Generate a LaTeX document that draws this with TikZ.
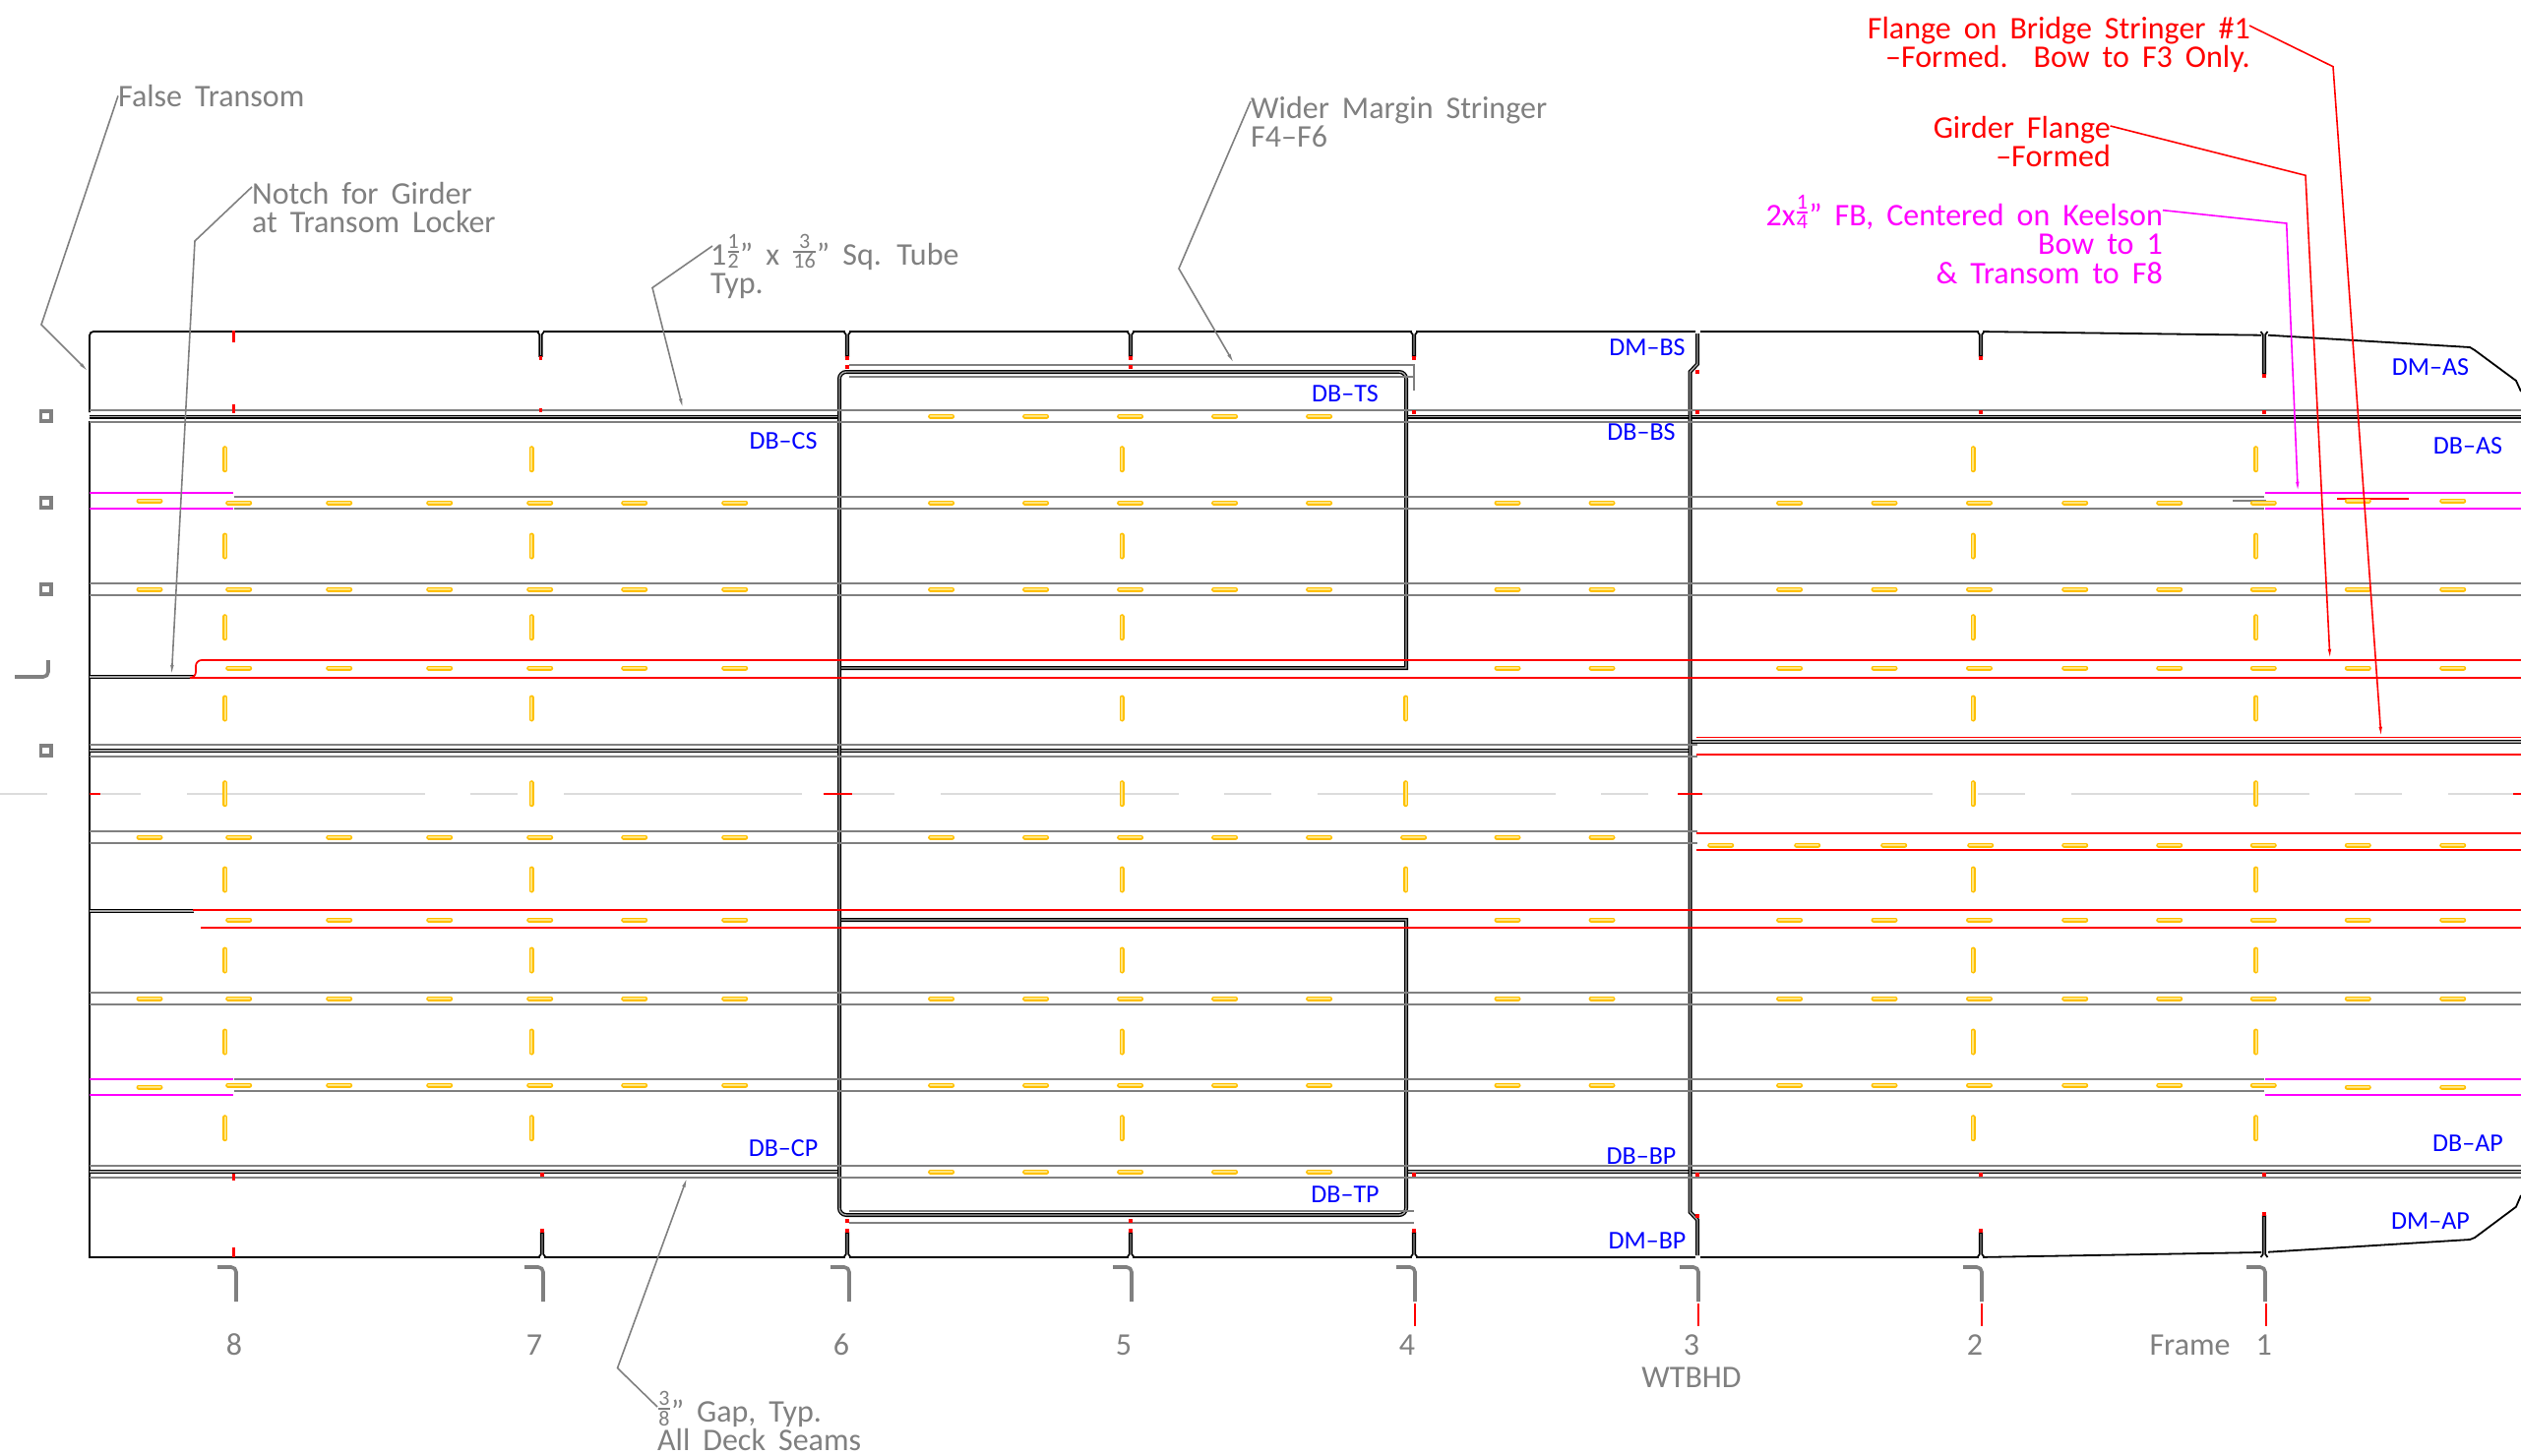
\documentclass[tikz,border=0pt]{standalone}
\usepackage{fontspec}
\setmainfont[WordSpace=1.8]{Carlito}
\usetikzlibrary{arrows.meta}
\definecolor{slotline}{HTML}{FFC000}
\definecolor{slotfill}{HTML}{FFE680}
\definecolor{linegray}{HTML}{808080}
\definecolor{centergray}{HTML}{DCDCDC}
\definecolor{barpink}{HTML}{FF00FF}
\newcommand{\frc}[2]{\raisebox{.45ex}{${\mbox{\fontsize{22}{22}\selectfont #1}\above 1.3pt\mbox{\fontsize{22}{22}\selectfont #2}}$}}
\newcommand{\hslots}[2]{\foreach \x in #2 {\draw[slot] (\x-11,#1) -- (\x+11,#1);}}
\newcommand{\vslots}[2]{\foreach \y in #2 {\draw[slot] (#1,\y-11) -- (#1,\y+11);}}
\def\farslots{242.7,344.7,446.7,548.7,644.7,746.7}
\begin{document}
\begin{tikzpicture}[x=1pt,y=-1pt]
	\tikzstyle{outl}=[draw=black,line width=1.8pt]
	\tikzstyle{dbl}=[draw=black,line width=1.3pt,double=linegray!70,double distance=1.4pt]
	\tikzstyle{seam}=[draw=linegray,line width=1.7pt]
	\tikzstyle{flange}=[draw=red,line width=1.7pt]
	\tikzstyle{bar}=[draw=barpink,line width=1.7pt]
	\tikzstyle{tick}=[draw=red,line width=3.2pt]
	\tikzstyle{slot}=[draw=slotline,line width=1.5pt,double=slotfill,double distance=2pt,line cap=round]
	\tikzstyle{hook}=[draw=linegray,line width=3.6pt,rounded corners=5pt]
	\tikzstyle{leader}=[draw=linegray,line width=1.6pt,-{Latex[length=12pt,width=3.5pt]}]
	\tikzstyle{lbl}=[font=\fontsize{32}{29.5}\selectfont,inner sep=0pt,text=linegray,align=left]
	\tikzstyle{tag}=[font=\fontsize{26}{26}\selectfont,inner sep=0pt,text=blue]
	\useasboundingbox (0,0) rectangle (2562,1480);

	% hull
	\draw[outl] (91,419) -- (91,341) [rounded corners=4pt] -- (91,337) -- (1723,337);
	\draw[outl] (91,428) -- (91,1278) -- (1723,1278);
	\draw[outl] (1728,337) -- (2010,337) -- (2298,340.7);
	\draw[outl] (2305,340.7) -- (2510,353) -- (2515,356) -- (2557,387) -- (2562,398);
	\draw[outl] (1728,1278) -- (2010,1278) -- (2298,1273);
	\draw[outl] (2305,1272.7) -- (2510,1260) -- (2515,1258) -- (2557,1226.7) -- (2562,1215);
	\foreach \x/\e in {549.5/362,861/362,1149/362,1437/362,2013/362,2301/380} {
		\fill[white] (\x-2,335) rectangle (\x+2,343);
		\draw[outl,line width=1.7pt] (\x-3.5,337) -- (\x-1.3,340) -- (\x-1.3,\e) -- (\x+1.3,\e) -- (\x+1.3,340) -- (\x+3.5,337);
		\draw[tick] (\x,\e) -- (\x,\e+4);
	}
	\foreach \x/\e in {551/1253,861/1253,1149/1253,1437/1253,2013/1253,2301/1236} {
		\fill[white] (\x-2,1272) rectangle (\x+2,1280);
		\draw[outl,line width=1.7pt] (\x-3.5,1278) -- (\x-1.3,1275) -- (\x-1.3,\e) -- (\x+1.3,\e) -- (\x+1.3,1275) -- (\x+3.5,1278);
		\draw[tick] (\x,\e) -- (\x,\e-4);
	}

	% bulkheads and girders
	\draw[dbl] (91,423.5) -- (851,423.5);
	\draw[dbl] (1429,423.5) -- (1716,423.5);
	\draw[dbl] (1719,423.5) -- (2562,423.5);
	\draw[dbl] (91,1191) -- (851,1191);
	\draw[dbl] (1429,1191) -- (1716,1191);
	\draw[dbl] (1719,1191) -- (2562,1191);
	\draw[dbl] (91,763) -- (1716,763);
	\draw[dbl] (1719,754) -- (2562,754);
	\draw[dbl] (91,688) -- (197,688);
	\draw[dbl] (91,926) -- (197,926);
	\draw[dbl] (1725,339) -- (1725,370) -- (1717.5,378) -- (1717.5,1232) -- (1725,1240) -- (1725,1276);
	\draw[dbl] (853,1000) [rounded corners=7pt] -- (853,378) -- (1429,378) [sharp corners] -- (1429,679) -- (855,679);
	\draw[dbl] (855,935) -- (1429,935) [rounded corners=7pt] -- (1429,1235) -- (853,1235) -- (853,1000);

	% seams
	\foreach \y in {417,429,593,605,1009,1021,1185,1197} {
		\draw[seam] (91,\y) -- (2562,\y);
	}
	\foreach \y in {505,517,1097,1109} {
		\draw[seam] (238,\y) -- (2301,\y);
	}
	\foreach \y in {757,769,845,857} {
		\draw[seam] (91,\y) -- (1725,\y);
	}
	\draw[seam] (863,371) -- (1437,371) -- (1437,397);
	\draw[seam] (863,383) -- (1437,383);
	\draw[seam] (863,1231) -- (1437,1231);
	\draw[seam] (863,1243) -- (1437,1243);
	\draw[seam] (2269,509) -- (2303,509);

	% centerline
	\draw[centergray,line width=2pt,dash pattern=on 242pt off 46pt on 48pt off 47pt] (190,807) -- (2562,807);
	\draw[centergray,line width=2pt] (0,807) -- (48,807);
	\draw[centergray,line width=2pt] (91,807) -- (143,807);
	\draw[flange] (91,807) -- (102,807);
	\draw[flange] (837,807) -- (866,807);
	\draw[flange] (1705,807) -- (1730,807);
	\draw[flange] (2554,807) -- (2562,807);

	% flanges
	\draw[flange] (196,689) -- (2562,689);
	\draw[flange] (197,689) [rounded corners=6pt] -- (199,689) -- (199,671) -- (2562,671);
	\draw[flange] (196,925) -- (2562,925);
	\draw[flange] (204,943) -- (2562,943);
	\draw[flange] (1724,749.5) -- (2562,749.5);
	\draw[flange] (1724,767) -- (2562,767);
	\draw[flange] (1724,847) -- (2562,847);
	\draw[flange] (1724,864) -- (2562,864);
	\draw[flange] (2375,507) -- (2448,507);

	% flat bars
	\foreach \y in {501,517,1097,1113} {
		\draw[bar] (91,\y) -- (237,\y);
		\draw[bar] (2302,\y) -- (2562,\y);
	}

	% ticks
	\draw[tick] (237.7,336) -- (237.7,348);
	\draw[tick] (237.7,411) -- (237.7,420);
	\draw[tick] (237.7,1193) -- (237.7,1200);
	\draw[tick] (237.7,1268) -- (237.7,1278);
	\foreach \x/\y in {549.5/417,861/373,1149/373,1437/419,1725/419,1725/378,2013/419,2301/419,
		551/1194,861/1241,1149/1241,1437/1194,1725/1194,1725/1236,2013/1194,2301/1194} {
		\draw[tick] (\x,\y-2) -- (\x,\y+2);
	}
	\foreach \x in {1438,1726,2014,2303} {
		\draw[flange] (\x,1325) -- (\x,1348);
	}

	% slots
	\def\doorslots{956.6,1052.6,1148.6,1244.6,1340.6}
	\def\midslots{1532,1628}
	\def\aftslots{1818.6,1915,2011.5,2108.7,2204.7,2300.3,2396.3,2492.7}
	\def\aftnear{1818.6,1915,2011.5,2108.7,2204.7,2300.3}
	\hslots{423}{\doorslots}
	\hslots{511}{\farslots}
	\hslots{511}{\doorslots}
	\hslots{511}{\midslots}
	\hslots{511}{\aftnear}
	\hslots{599}{\farslots}
	\hslots{599}{\doorslots}
	\hslots{599}{\midslots}
	\hslots{599}{\aftslots}
	\hslots{679}{\farslots}
	\hslots{679}{\midslots}
	\hslots{679}{\aftslots}
	\hslots{851}{\farslots}
	\hslots{851}{\doorslots}
	\hslots{851}{\midslots}
	\hslots{851}{{1436.6}}
	\hslots{859}{{1748.7,1836.7,1924.7,2012.7,2108.7,2204.7,2300.3,2396.3,2492.7}}
	\hslots{935}{\farslots}
	\hslots{935}{\midslots}
	\hslots{935}{\aftslots}
	\hslots{1015}{\farslots}
	\hslots{1015}{\doorslots}
	\hslots{1015}{\midslots}
	\hslots{1015}{\aftslots}
	\hslots{1103}{\farslots}
	\hslots{1103}{\doorslots}
	\hslots{1103}{\midslots}
	\hslots{1103}{\aftnear}
	\hslots{1191}{\doorslots}
	\hslots{509}{{152}}
	\hslots{599}{{152}}
	\hslots{851}{{152}}
	\hslots{1015}{{152}}
	\hslots{1105}{{152}}
	\hslots{509}{{2396.3,2492.7}}
	\hslots{1105}{{2396.3,2492.7}}
	\def\allrows{466.7,555,637.7,720,806.7,894,976,1059,1146.7}
	\vslots{228.7}{\allrows}
	\vslots{540}{\allrows}
	\vslots{1140}{\allrows}
	\vslots{2005}{\allrows}
	\vslots{2292.7}{\allrows}
	\vslots{1428.6}{{720,806.7,894}}

	% section marks
	\foreach \y in {423,511,599,763} {
		\draw[draw=linegray,line width=3.5pt] (41.5,\y-5) rectangle (52,\y+5);
	}
	\draw[hook] (15,688) -- (49,688) -- (49,671);
	\foreach \x in {240,552,863,1150,1438,1726,2014,2302} {
		\draw[hook] (\x-19,1288) -- (\x,1288) -- (\x,1323);
	}

	% frame numbers
	\node (fr8) at (238,1367) [lbl] {8};
	\node (fr7) at (543,1367) [lbl] {7};
	\node (fr6) at (855,1367) [lbl] {6};
	\node (fr5) at (1142,1367) [lbl] {5};
	\node (fr4) at (1430,1367) [lbl] {4};
	\node (fr3) at (1719,1367) [lbl] {3};
	\node (fr2) at (2007,1367) [lbl] {2};
	\node (fr1) at (2309,1367) [lbl,anchor=east] {Frame\ \ 1};
	\node (wtbhd) at (1719,1400) [lbl] {WTBHD};

	% deck tags
	\node (dmbs) at (1674,353) [tag] {DM–BS};
	\node (dbts) at (1367,400) [tag] {DB–TS};
	\node (dbbs) at (1668,439) [tag] {DB–BS};
	\node (dbcs) at (796,448) [tag] {DB–CS};
	\node (dmas) at (2470,373) [tag] {DM–AS};
	\node (dbas) at (2508,452.7) [tag] {DB–AS};
	\node (dbcp) at (796,1167) [tag] {DB–CP};
	\node (dbtp) at (1367,1214) [tag] {DB–TP};
	\node (dbbp) at (1668,1175) [tag] {DB–BP};
	\node (dmbp) at (1674,1261) [tag] {DM–BP};
	\node (dbap) at (2508,1161.7) [tag] {DB–AP};
	\node (dmap) at (2470,1240.7) [tag] {DM–AP};

	% callouts
	\node (falsetr) at (120,86) [lbl,anchor=north west] {False Transom};
	\coordinate (falsebend) at (42,330);
	\coordinate (falsetip) at (91,379);
	\draw[leader] (falsetr.west) -- (falsebend) -- (falsetip);

	\node (notch) at (256,185) [lbl,anchor=north west] {Notch for Girder\\at Transom Locker};
	\coordinate (notchstart) at (256,190);
	\coordinate (notchbend) at (198,245);
	\coordinate (notchtip) at (174.3,688);
	\draw[leader] (notchstart) -- (notchbend) -- (notchtip);

	\node (tube) at (722,238) [lbl,anchor=north west] {1\frc{1}{2}” x \frc{3}{16}” Sq. Tube\\Typ.};
	\coordinate (tubestart) at (724,250);
	\coordinate (tubebend) at (663,292.5);
	\coordinate (tubetip) at (694.5,417);
	\draw[leader] (tubestart) -- (tubebend) -- (tubetip);

	\node (wider) at (1271,98) [lbl,anchor=north west] {Wider Margin Stringer\\F4–F6};
	\coordinate (widerstart) at (1271,103);
	\coordinate (widerbend) at (1198,273);
	\coordinate (widertip) at (1255,371);
	\draw[leader] (widerstart) -- (widerbend) -- (widertip);

	\node (gap) at (668,1414) [lbl,anchor=north west] {\frc{3}{8}” Gap, Typ.\\All Deck Seams};
	\coordinate (gapstart) at (668,1430);
	\coordinate (gapbend) at (627.5,1390.6);
	\coordinate (gaptip) at (699,1195);
	\draw[leader] (gapstart) -- (gapbend) -- (gaptip);

	\node (bridge) at (2287,17) [lbl,text=red,align=right,anchor=north east] {Flange on Bridge Stringer \#1\\–Formed.\ \ Bow to F3 Only.};
	\coordinate (bridgestart) at (2286,26);
	\coordinate (bridgebend) at (2371,67.7);
	\coordinate (bridgetip) at (2420,750.7);
	\draw[leader,draw=red] (bridgestart) -- (bridgebend) -- (bridgetip);

	\node (girder) at (2145,118) [lbl,text=red,align=right,anchor=north east] {Girder Flange\\–Formed};
	\coordinate (girderstart) at (2144.6,128);
	\coordinate (girderbend) at (2343,178.3);
	\coordinate (girdertip) at (2368,671.7);
	\draw[leader,draw=red] (girderstart) -- (girderbend) -- (girdertip);

	\node (keelbar) at (2198,198) [lbl,text=barpink,align=right,anchor=north east] {2x\frc{1}{4}” FB, Centered on Keelson\\Bow to 1\\\& Transom to F8};
	\coordinate (keelstart) at (2198,213.7);
	\coordinate (keelbend) at (2323.7,227);
	\coordinate (keeltip) at (2335.3,501.7);
	\draw[leader,draw=barpink] (keelstart) -- (keelbend) -- (keeltip);
\end{tikzpicture}
\end{document}
